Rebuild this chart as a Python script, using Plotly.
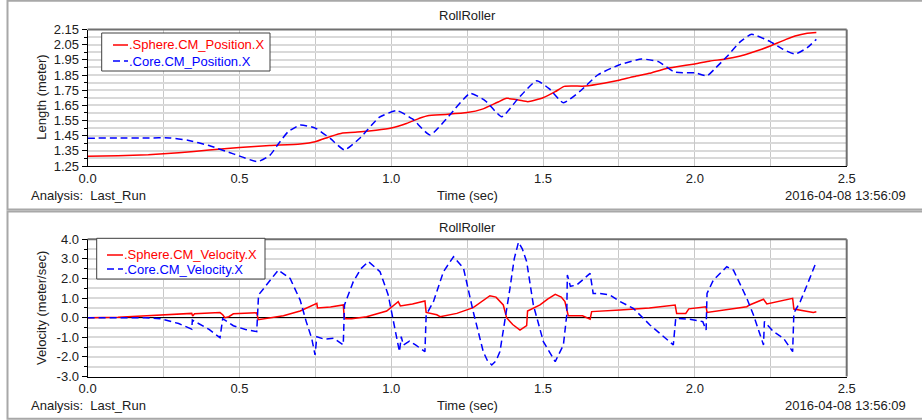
import plotly.graph_objects as go

# ---- Position (m) vs time (s) ----
t_sphere_pos = [0.0, 0.1, 0.2, 0.3, 0.4, 0.5, 0.6, 0.7, 0.75, 0.8, 0.84, 0.9, 0.95, 1.0, 1.05,
                1.1, 1.12, 1.18, 1.25, 1.3, 1.35, 1.38, 1.42, 1.45, 1.5, 1.54, 1.57, 1.6, 1.64,
                1.7, 1.75, 1.8, 1.85, 1.9, 1.94, 2.0, 2.05, 2.1, 2.15, 2.18, 2.22, 2.25, 2.3,
                2.33, 2.37, 2.4]
sphere_pos = [1.315, 1.318, 1.325, 1.338, 1.355, 1.372, 1.385, 1.395, 1.41, 1.445, 1.468, 1.475,
              1.485, 1.50, 1.53, 1.57, 1.582, 1.59, 1.602, 1.625, 1.67, 1.696, 1.685, 1.674,
              1.70, 1.74, 1.775, 1.777, 1.777, 1.795, 1.815, 1.84, 1.861, 1.89, 1.905, 1.923,
              1.942, 1.955, 1.975, 1.993, 2.02, 2.043, 2.085, 2.107, 2.125, 2.13]

t_core_pos = [0.0, 0.1, 0.2, 0.27, 0.33, 0.4, 0.48, 0.56, 0.6, 0.63, 0.66, 0.7, 0.75, 0.8, 0.846,
              0.9, 0.96, 1.018, 1.07, 1.128, 1.19, 1.26, 1.31, 1.364, 1.42, 1.479, 1.52, 1.567,
              1.62, 1.68, 1.75, 1.825, 1.88, 1.93, 1.96, 2.0, 2.04, 2.07, 2.105, 2.15, 2.187,
              2.248, 2.29, 2.33, 2.37, 2.4]
core_pos = [1.433, 1.435, 1.435, 1.435, 1.42, 1.385, 1.33, 1.279, 1.32, 1.40, 1.475, 1.52, 1.50,
            1.43, 1.356, 1.44, 1.57, 1.615, 1.56, 1.455, 1.58, 1.729, 1.68, 1.575, 1.70, 1.812,
            1.76, 1.667, 1.74, 1.85, 1.916, 1.955, 1.938, 1.872, 1.865, 1.865, 1.845, 1.90,
            1.97, 2.07, 2.118, 2.07, 2.02, 1.988, 2.03, 2.085]

# ---- Velocity (m/s) vs time (s) ----
t_sphere_vel = [0.0, 0.1, 0.195, 0.3, 0.343, 0.346, 0.352, 0.436, 0.445, 0.452, 0.465, 0.48,
                0.557, 0.562, 0.6, 0.645, 0.7, 0.749, 0.755, 0.757, 0.8, 0.842, 0.845, 0.85,
                0.87, 0.919, 0.985, 1.023, 1.03, 1.07, 1.111, 1.115, 1.15, 1.161, 1.216, 1.27,
                1.3, 1.325, 1.345, 1.369, 1.38, 1.4, 1.424, 1.446, 1.449, 1.49, 1.515, 1.54,
                1.56, 1.572, 1.583, 1.63, 1.655, 1.66, 1.754, 1.85, 1.935, 1.94, 1.97, 1.98,
                2.037, 2.04, 2.171, 2.18, 2.226, 2.237, 2.322, 2.326, 2.39, 2.4]
sphere_vel = [0.0, 0.02, 0.1, 0.18, 0.22, 0.08, 0.2, 0.26, 0.15, 0.0, 0.05, 0.2,
              0.25, -0.1, -0.02, 0.1, 0.34, 0.71, 0.73, 0.5, 0.55, 0.65, 0.05, -0.05,
              -0.05, 0.05, 0.34, 0.82, 0.6, 0.7, 0.85, 0.27, 0.15, 0.05, 0.22, 0.51,
              0.85, 1.12, 1.05, 0.65, 0.0, -0.35, -0.63, -0.4, 0.34, 0.65, 0.95, 1.19,
              1.05, 0.82, 0.1, 0.1, -0.08, 0.31, 0.39, 0.5, 0.65, 0.22, 0.22, 0.45,
              0.56, 0.27, 0.56, 0.65, 0.94, 0.7, 0.99, 0.44, 0.27, 0.3]

t_core_vel = [0.0, 0.1, 0.19, 0.24, 0.3, 0.343, 0.345, 0.4, 0.436, 0.445, 0.48, 0.52, 0.557,
              0.563, 0.59, 0.628, 0.667, 0.7, 0.72, 0.738, 0.749, 0.755, 0.78, 0.81, 0.842,
              0.846, 0.875, 0.9, 0.925, 0.963, 0.99, 1.005, 1.018, 1.027, 1.033, 1.04, 1.06,
              1.08, 1.111, 1.115, 1.139, 1.172, 1.205, 1.238, 1.27, 1.303, 1.317, 1.331,
              1.345, 1.358, 1.391, 1.405, 1.419, 1.432, 1.446, 1.468, 1.501, 1.54, 1.567,
              1.578, 1.58, 1.59, 1.611, 1.655, 1.665, 1.688, 1.72, 1.754, 1.797, 1.852,
              1.929, 1.937, 1.98, 2.026, 2.037, 2.04, 2.061, 2.105, 2.127, 2.171, 2.193,
              2.226, 2.229, 2.259, 2.292, 2.322, 2.326, 2.347, 2.374, 2.4]
core_vel = [0.0, 0.0, 0.0, -0.05, -0.3, -0.58, -0.12, -0.6, -1.02, -0.05, -0.41, -0.6, -0.71,
            1.16, 1.7, 2.43, 2.0, 0.9, -0.2, -1.05, -1.9, -0.97, -1.1, -1.05, -1.39,
            0.65, 1.84, 2.5, 2.86, 2.35, 1.16, 0.0, -1.05, -1.73, -0.97, -1.4, -1.2,
            -1.39, -1.73, 0.14, 0.82, 2.35, 3.11, 2.52, 0.31, -1.73, -2.2, -2.41,
            -2.2, -1.73, 1.5, 3.0, 3.85, 3.5, 2.86, 0.65, -1.22, -2.24, -1.39,
            0.14, 2.18, 1.6, 1.67, 2.26, 1.24, 1.24, 1.16, 0.82, 0.48, -0.37,
            -1.39, -0.03, -0.07, -0.2, -0.63, 1.24, 1.92, 2.6, 2.43, 0.99, 0.14,
            -1.39, -0.2, -0.71, -1.05, -1.73, 0.24, 0.82, 1.84, 2.86]

# ---- Axis ticks ----
time_ticks = [0.0, 0.5, 1.0, 1.5, 2.0, 2.5]
time_labels = ["0.0", "0.5", "1.0", "1.5", "2.0", "2.5"]
pos_ticks = [1.25, 1.35, 1.45, 1.55, 1.65, 1.75, 1.85, 1.95, 2.05, 2.15]
pos_labels = ["1.25", "1.35", "1.45", "1.55", "1.65", "1.75", "1.85", "1.95", "2.05", "2.15"]
vel_ticks = [-3, -2, -1, 0, 1, 2, 3, 4]
vel_labels = ["-3.0", "-2.0", "-1.0", "0.0", "1.0", "2.0", "3.0", "4.0"]

# ---- Series names ----
sphere_pos_name = ".Sphere.CM_Position.X"
core_pos_name = ".Core.CM_Position.X"
sphere_vel_name = ".Sphere.CM_Velocity.X"
core_vel_name = ".Core.CM_Velocity.X"

FONT = "Liberation Sans, Arial, sans-serif"
TXT = "#202020"
RED = "#ff0000"
BLUE = "#0000ff"
DASH = "7px,4px"
W, H = 922, 420


def px_x(x):
    return x / W


def px_y(y):
    return 1 - y / H


fig = go.Figure()

fig.add_trace(go.Scatter(x=t_sphere_pos, y=sphere_pos, mode="lines", xaxis="x", yaxis="y",
                         name=sphere_pos_name,
                         line=dict(color=RED, width=1.5, shape="spline", smoothing=0.5)))
fig.add_trace(go.Scatter(x=t_core_pos, y=core_pos, mode="lines", xaxis="x", yaxis="y",
                         name=core_pos_name,
                         line=dict(color=BLUE, width=1.5, dash=DASH, shape="spline", smoothing=0.5)))
fig.add_trace(go.Scatter(x=t_sphere_vel, y=sphere_vel, mode="lines", xaxis="x2", yaxis="y2",
                         name=sphere_vel_name, line=dict(color=RED, width=1.5)))
fig.add_trace(go.Scatter(x=t_core_vel, y=core_vel, mode="lines", xaxis="x2", yaxis="y2",
                         name=core_vel_name, line=dict(color=BLUE, width=1.5, dash=DASH)))

x_dom = [px_x(87.6), px_x(846.7)]
top_dom = [px_y(166.0), px_y(29.5)]
bot_dom = [px_y(376.5), px_y(239.3)]

xaxis_common = dict(
    domain=x_dom, range=[0, 2.5], tickvals=time_ticks, ticktext=time_labels,
    showgrid=True, gridcolor="#c8c8c8", gridwidth=1,
    minor=dict(dtick=0.25, tick0=0, showgrid=True, gridcolor="#c8c8c8", gridwidth=1),
    showline=True, linecolor="black", linewidth=1, ticks="",
    zeroline=False, tickfont=dict(size=13, color=TXT, family=FONT),
    fixedrange=True, automargin=False,
)
yaxis_common = dict(
    showgrid=True, gridcolor="#d9d9d9", gridwidth=2,
    showline=True, linecolor="black", linewidth=1, ticks="outside", ticklen=5,
    tickcolor="black", tickfont=dict(size=13, color=TXT, family=FONT), fixedrange=True,
    automargin=False,
)

fig.update_layout(
    width=W, height=H,
    margin=dict(l=0, r=0, t=0, b=0, autoexpand=False),
    paper_bgcolor="white", plot_bgcolor="white",
    font=dict(family=FONT, size=13, color=TXT),
    showlegend=False,
    xaxis=dict(anchor="y", **xaxis_common),
    xaxis2=dict(anchor="y2", **xaxis_common),
    yaxis=dict(anchor="x", domain=top_dom, range=[1.25, 2.15],
               tickvals=pos_ticks, ticktext=pos_labels,
               minor=dict(dtick=0.05, tick0=1.25, showgrid=True, gridcolor="#d9d9d9", gridwidth=2,
                          ticks="outside", ticklen=3, tickcolor="black"),
               zeroline=False, **yaxis_common),
    yaxis2=dict(anchor="x2", domain=bot_dom, range=[-3, 4],
                tickvals=vel_ticks, ticktext=vel_labels,
                minor=dict(dtick=0.5, tick0=0, showgrid=True, gridcolor="#d9d9d9", gridwidth=2,
                           ticks="outside", ticklen=3, tickcolor="black"),
                zeroline=True, zerolinecolor="black", zerolinewidth=1, **yaxis_common),
)

shapes = []
ann = []

# panel frames
for y0, y1 in [(209.5, 0.8), (418.8, 211.5)]:
    shapes.append(dict(type="rect", xref="paper", yref="paper",
                       x0=px_x(7.5), x1=1.02, y0=px_y(y0), y1=px_y(y1),
                       line=dict(color="#a8a8a8", width=2), layer="below"))
# top and right plot borders
for xa, ya in [("x", "y"), ("x2", "y2")]:
    shapes.append(dict(type="line", xref=f"{xa} domain", yref=f"{ya} domain",
                       x0=0, x1=1, y0=1, y1=1, line=dict(color="#707070", width=2)))
    shapes.append(dict(type="line", xref=f"{xa} domain", yref=f"{ya} domain",
                       x0=1, x1=1, y0=0, y1=1, line=dict(color="#707070", width=2)))

# legend boxes: (box left, top, right, bottom, sample x0, x1, row y's, entries)
legends = [
    (101.7, 33.0, 270.0, 71.0, 113.0, 128.0, [45.0, 61.0],
     [(sphere_pos_name, RED, "solid"), (core_pos_name, BLUE, DASH)]),
    (96.7, 238.3, 265.0, 279.0, 107.0, 123.0, [255.0, 269.0],
     [(sphere_vel_name, RED, "solid"), (core_vel_name, BLUE, DASH)]),
]
for bx0, by0, bx1, by1, sx0, sx1, rows, entries in legends:
    shapes.append(dict(type="rect", xref="paper", yref="paper",
                       x0=px_x(bx0), x1=px_x(bx1), y0=px_y(by1), y1=px_y(by0),
                       line=dict(color="#404040", width=1), fillcolor="white", layer="above"))
    for ry, (label, color, dash) in zip(rows, entries):
        shapes.append(dict(type="line", xref="paper", yref="paper",
                           x0=px_x(sx0), x1=px_x(sx1), y0=px_y(ry), y1=px_y(ry),
                           line=dict(color=color, width=1.5, dash=dash), layer="above"))
        ann.append(dict(text=label, x=px_x(sx1 - 1), y=px_y(ry), xref="paper", yref="paper",
                        showarrow=False, xanchor="left", yanchor="middle",
                        font=dict(size=13, color=color, family=FONT)))

for title_y, foot_y, ytitle, ymid in [(16, 195, "Length (meter)", 97.7),
                                       (228, 405, "Velocity (meter/sec)", 307.9)]:
    ann.append(dict(text="RollRoller", x=px_x(467), y=px_y(title_y), xref="paper", yref="paper",
                    showarrow=False, xanchor="center", yanchor="middle"))
    ann.append(dict(text="Analysis:  Last_Run", x=px_x(29), y=px_y(foot_y), xref="paper",
                    yref="paper", showarrow=False, xanchor="left", yanchor="middle"))
    ann.append(dict(text="Time (sec)", x=px_x(467), y=px_y(foot_y), xref="paper", yref="paper",
                    showarrow=False, xanchor="center", yanchor="middle"))
    ann.append(dict(text="2016-04-08 13:56:09", x=px_x(908), y=px_y(foot_y), xref="paper",
                    yref="paper", showarrow=False, xanchor="right", yanchor="middle"))
    ann.append(dict(text=ytitle, x=px_x(42), y=px_y(ymid), xref="paper", yref="paper",
                    showarrow=False, textangle=-90, xanchor="center", yanchor="middle"))

fig.update_layout(shapes=shapes, annotations=ann)

fig.write_html("out.html", config={"displayModeBar": False})
